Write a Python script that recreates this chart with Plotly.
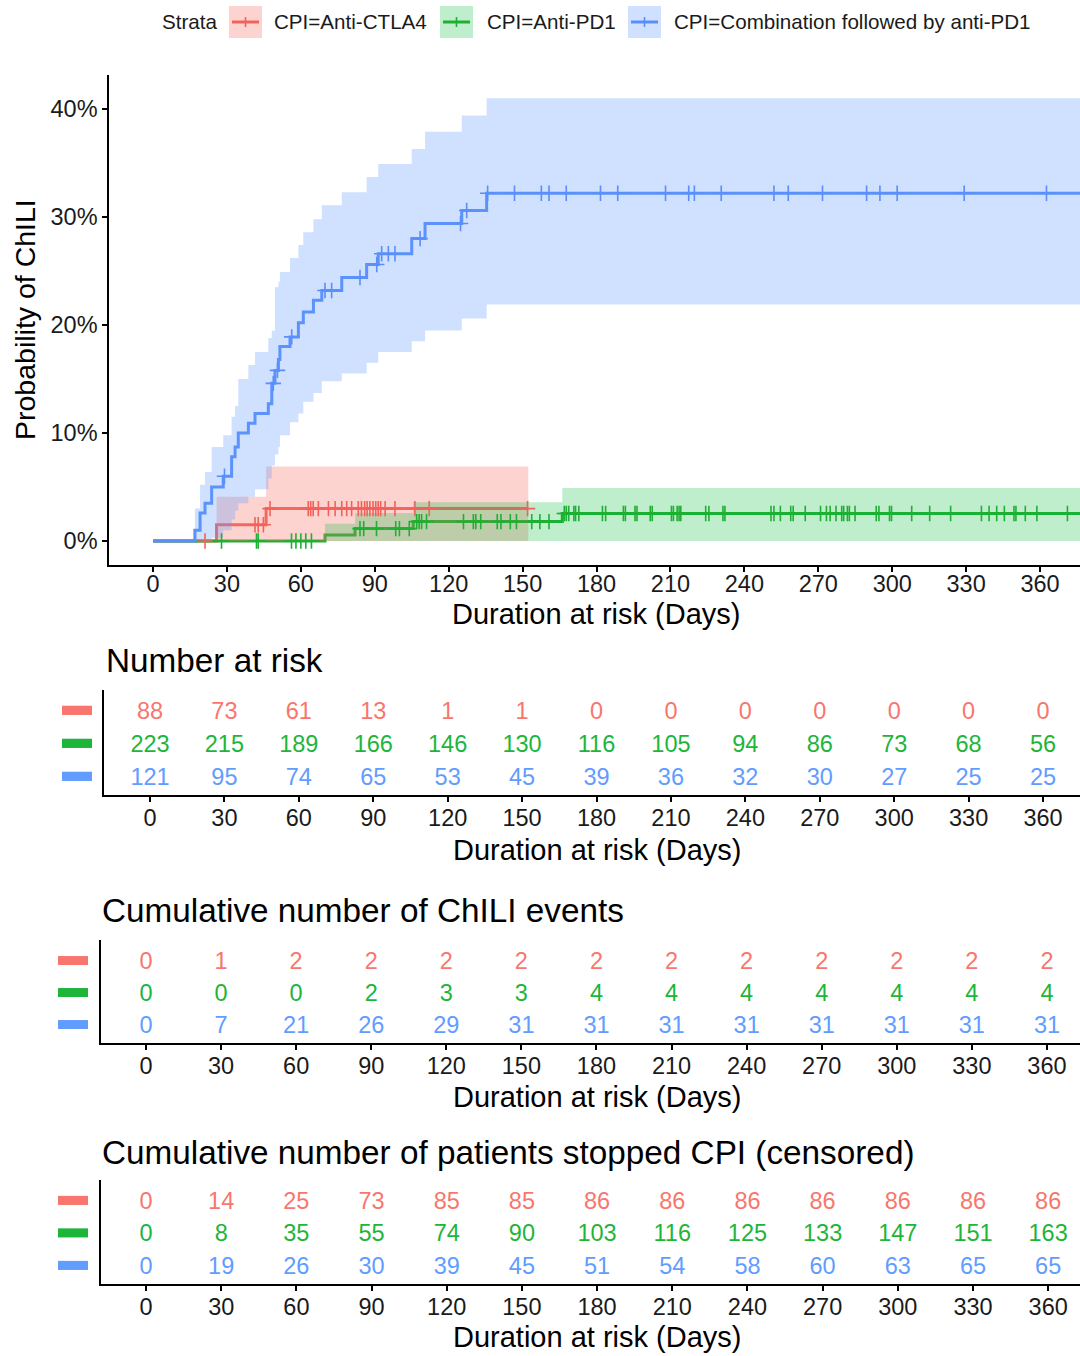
import numpy as np
import plotly.graph_objects as go

# ---------------- data ----------------
strata_names = ["CPI=Anti-CTLA4", "CPI=Anti-PD1", "CPI=Combination followed by anti-PD1"]

# cumulative incidence of ChILI (%), step curves; times in days
ctla4_time = [0, 25.8, 45.9, 152.3]
ctla4_est = [0.0, 1.5, 3.0, 3.0]
ctla4_lower = [0.0, 0.0, 0.0, 0.0]
ctla4_upper = [0.0, 4.1, 6.9, 6.9]
ctla4_censor = [21.1, 41.4, 42.7, 44.8, 47.5, 63.0, 64.0, 65.0, 67.1, 71.2, 73.9, 76.6, 78.6,
                80.6, 83.3, 84.6, 85.9, 86.9, 88.0, 89.3, 90.4, 91.4, 92.4, 94.2, 98.2, 106.3,
                112.1, 152.0]

pd1_time = [0, 69.8, 82.0, 105.6, 166.1, 380]
pd1_est = [0.0, 0.55, 1.15, 1.8, 2.55, 2.55]
pd1_lower = [0.0, 0.0, 0.0, 0.0, 0.0, 0.0]
pd1_upper = [0.0, 1.6, 2.6, 3.6, 4.9, 4.9]
pd1_censor = [27.8, 42.0, 42.7, 56.2, 58.0, 60.0, 62.0, 64.3, 84.0, 85.5, 90.7, 98.5, 100.0,
              104.0, 107.0, 108.0, 109.0, 111.0, 126.0, 130.0, 131.0, 133.0, 139.7, 141.2,
              145.0, 147.5, 153.7, 157.0, 160.7, 166.9, 167.7, 168.7, 170.8, 171.5, 172.8,
              182.4, 183.7, 190.9, 191.7, 195.6, 196.4, 201.8, 202.6, 210.4, 211.2, 212.7,
              213.5, 214.2, 224.3, 225.6, 231.3, 232.1, 250.8, 252.0, 254.6, 258.8, 259.8,
              264.7, 270.9, 273.3, 274.8, 277.2, 279.5, 280.3, 281.8, 282.6, 284.9, 293.5,
              294.6, 298.9, 299.7, 307.9, 315.2, 323.7, 336.2, 339.3, 342.4, 345.5, 349.4,
              350.2, 354.0, 358.7, 371.1]

combo_time = [0, 17.0, 19.1, 21.1, 23.8, 28.5, 31.9, 33.3, 34.6, 38.7, 41.4, 46.8, 48.2, 49.5,
              50.9, 51.5, 55.6, 59.0, 61.0, 65.1, 68.5, 76.6, 86.7, 91.4, 105.0, 110.4, 125.3,
              135.4, 380]
combo_est = [0.0, 1.0, 2.6, 3.5, 5.0, 6.0, 7.8, 8.7, 10.0, 10.9, 11.8, 12.7, 14.6, 15.8, 16.8,
             18.0, 18.9, 20.2, 21.2, 22.3, 23.2, 24.4, 25.6, 26.6, 28.0, 29.4, 30.6, 32.2, 32.2]
combo_lower = [0.0, 0.0, 0.0, 0.0, 0.3, 1.0, 2.0, 2.8, 3.5, 4.1, 4.8, 5.8, 7.0, 8.0, 8.7, 9.8,
               11.0, 11.8, 12.9, 13.7, 14.8, 15.5, 16.5, 17.5, 18.5, 19.5, 20.6, 21.9, 21.9]
combo_upper = [0.0, 3.0, 5.2, 6.4, 8.7, 9.8, 11.5, 12.5, 15.0, 16.3, 17.5, 18.8, 19.5, 23.5,
               24.0, 24.9, 26.2, 27.4, 28.6, 29.8, 31.1, 32.3, 33.7, 34.9, 36.3, 37.9, 39.4,
               41.0, 41.0]
combo_censor = [29.0, 48.8, 50.5, 56.3, 69.8, 72.5, 84.0, 90.8, 92.8, 95.5, 98.2, 108.4, 124.8,
                127.3, 135.8, 146.7, 157.6, 160.7, 167.7, 181.6, 188.6, 208.0, 217.4, 219.7,
                230.6, 252.0, 257.8, 271.7, 289.6, 295.0, 302.0, 329.2, 362.6]

y_ticks = [0, 10, 20, 30, 40]
table_times = [0, 30, 60, 90, 120, 150, 180, 210, 240, 270, 300, 330, 360]

risk_ctla4 = [88, 73, 61, 13, 1, 1, 0, 0, 0, 0, 0, 0, 0]
risk_pd1 = [223, 215, 189, 166, 146, 130, 116, 105, 94, 86, 73, 68, 56]
risk_combo = [121, 95, 74, 65, 53, 45, 39, 36, 32, 30, 27, 25, 25]

events_ctla4 = [0, 1, 2, 2, 2, 2, 2, 2, 2, 2, 2, 2, 2]
events_pd1 = [0, 0, 0, 2, 3, 3, 4, 4, 4, 4, 4, 4, 4]
events_combo = [0, 7, 21, 26, 29, 31, 31, 31, 31, 31, 31, 31, 31]

cens_ctla4 = [0, 14, 25, 73, 85, 85, 86, 86, 86, 86, 86, 86, 86]
cens_pd1 = [0, 8, 35, 55, 74, 90, 103, 116, 125, 133, 147, 151, 163]
cens_combo = [0, 19, 26, 30, 39, 45, 51, 54, 58, 60, 63, 65, 65]

table_titles = ["Number at risk", "Cumulative number of ChILI events",
                "Cumulative number of patients stopped CPI (censored)"]
x_title = "Duration at risk (Days)"
y_title = "Probability of ChILI"

# ---------------- styling ----------------
W, H = 1080, 1356
FONT = "Liberation Sans, Arial, Helvetica, sans-serif"
line_cols = ["#F2625A", "#1FAF33", "#5A8EFA"]
text_cols = ["#F8766D", "#1DB53A", "#619CFF"]
band_rgb = [(248, 118, 109), (0, 186, 56), (97, 156, 255)]
band_alpha = [0.32, 0.25, 0.3]
band_cols = ["rgba(%d,%d,%d,%.2f)" % (c + (a,)) for c, a in zip(band_rgb, band_alpha)]


def px(x):
    return x / W


def py(y):
    return 1 - y / H


curves = [
    (ctla4_time, ctla4_est, ctla4_lower, ctla4_upper, ctla4_censor),
    (pd1_time, pd1_est, pd1_lower, pd1_upper, pd1_censor),
    (combo_time, combo_est, combo_lower, combo_upper, combo_censor),
]

fig = go.Figure()

# lines
for i, (t, e, lo, up, cz) in enumerate(curves):
    fig.add_trace(go.Scatter(x=t, y=e, mode="lines", line=dict(color=line_cols[i], width=3, shape="hv"),
                             showlegend=False, hoverinfo="skip", xaxis="x", yaxis="y"))
# confidence bands
for i, (t, e, lo, up, cz) in enumerate(curves):
    fig.add_trace(go.Scatter(x=t, y=up, mode="lines", line=dict(width=0, shape="hv"),
                             showlegend=False, hoverinfo="skip", xaxis="x", yaxis="y"))
    fig.add_trace(go.Scatter(x=t, y=lo, mode="lines", line=dict(width=0, shape="hv"),
                             fill="tonexty", fillcolor=band_cols[i],
                             showlegend=False, hoverinfo="skip", xaxis="x", yaxis="y"))
# censor marks
for i, (t, e, lo, up, cz) in enumerate(curves):
    idx = np.searchsorted(np.array(t), np.array(cz), side="right") - 1
    yc = np.array(e)[idx]
    fig.add_trace(go.Scatter(x=cz, y=yc, mode="markers",
                             marker=dict(symbol="cross-thin", size=11,
                                         line=dict(color=line_cols[i], width=1.6)),
                             showlegend=False, hoverinfo="skip", xaxis="x", yaxis="y"))

# tables
tables = [
    [risk_ctla4, risk_pd1, risk_combo],
    [events_ctla4, events_pd1, events_combo],
    [cens_ctla4, cens_pd1, cens_combo],
]
for k, tab in enumerate(tables):
    ax = str(k + 2)
    for i, vals in enumerate(tab):
        fig.add_trace(go.Scatter(x=table_times, y=[3 - i] * len(table_times), mode="text",
                                 text=[str(v) for v in vals],
                                 textfont=dict(color=text_cols[i], size=23.5, family=FONT),
                                 textposition="middle center",
                                 showlegend=False, hoverinfo="skip",
                                 xaxis="x" + ax, yaxis="y" + ax))

axis_common = dict(showline=True, linecolor="black", linewidth=1.5, showgrid=False, zeroline=False,
                   ticks="outside", ticklen=5, tickwidth=1.5, tickcolor="black",
                   tickfont=dict(size=23.5, color="#1a1a1a", family=FONT))

layout = dict(
    width=W, height=H, margin=dict(l=0, r=0, t=0, b=0),
    paper_bgcolor="white", plot_bgcolor="white", showlegend=False,
    font=dict(family=FONT, color="black"),
    xaxis=dict(domain=[px(109), 1.0], range=[-17.86, 376.2], tickmode="array",
               tickvals=table_times, ticktext=[str(v) for v in table_times],
               anchor="y", ticklabelstandoff=-8, **axis_common),
    yaxis=dict(domain=[py(565), py(75)], range=[-2.22, 43.15], tickmode="array",
               tickvals=y_ticks, ticktext=["%d%%" % v for v in y_ticks],
               anchor="x", **axis_common),
)

# table axes geometry (pixel layout of the reference)
tab_geom = [
    # x_left, y_top, y_bottom, xrange, yrange
    (104, 690, 795, [-18.54, 374.9], [0.515, 3.696]),
    (101, 940, 1043, [-17.98, 373.2], [0.5025, 3.721]),
    (101, 1180, 1284, [-17.96, 372.7], [0.508, 3.708]),
]
for k, (xl, yt, yb, xr, yr) in enumerate(tab_geom):
    ax = str(k + 2)
    xa = dict(domain=[px(xl), 1.0], range=xr, tickmode="array", tickvals=table_times,
              ticktext=[str(v) for v in table_times], anchor="y" + ax,
              ticklabelstandoff=-4, **axis_common)
    ya = dict(domain=[py(yb), py(yt)], range=yr, anchor="x" + ax, showline=True, linecolor="black",
              linewidth=1.5, showgrid=False, zeroline=False, showticklabels=False, ticks="")
    layout["xaxis" + ax] = xa
    layout["yaxis" + ax] = ya

fig.update_layout(**layout)

annotations = []
shapes = []

# axis titles
title_y = [614, 850, 1097, 1337]
title_xc = [596, 597, 597, 597]
for yv, xc in zip(title_y, title_xc):
    annotations.append(dict(x=px(xc), y=py(yv), xref="paper", yref="paper", text=x_title,
                            showarrow=False, xanchor="center", yanchor="middle",
                            font=dict(size=29, color="black", family=FONT)))
annotations.append(dict(x=px(25), y=py(320), xref="paper", yref="paper", text=y_title,
                        textangle=-90, showarrow=False, xanchor="center", yanchor="middle",
                        font=dict(size=28.5, color="black", family=FONT)))

# table titles
tt_pos = [(104, 660), (100, 911), (100, 1152)]
for (xl, yc), ttl in zip(tt_pos, table_titles):
    annotations.append(dict(x=px(xl), y=py(yc), xref="paper", yref="paper", text=ttl,
                            showarrow=False, xanchor="left", yanchor="middle",
                            font=dict(size=33.3, color="black", family=FONT)))

# strata bars left of tables
bar_x = [(62, 92), (58, 88), (58, 88)]
for k in range(3):
    ax = str(k + 2)
    for i in range(3):
        shapes.append(dict(type="rect", xref="paper", yref="y" + ax,
                           x0=px(bar_x[k][0]), x1=px(bar_x[k][1]),
                           y0=3 - i - 0.06, y1=3 - i + 0.22,
                           fillcolor=text_cols[i], line=dict(width=0)))

# legend (manual, ggplot style)
annotations.append(dict(x=px(160), y=py(22), xref="paper", yref="paper", text="Strata",
                        showarrow=False, xanchor="left", yanchor="middle",
                        font=dict(size=20.6, color="#1a1a1a", family=FONT)))
key_x = [229, 440, 628]
lab_x = [272, 485, 672]
for i in range(3):
    x0 = key_x[i]
    shapes.append(dict(type="rect", xref="paper", yref="paper", x0=px(x0), x1=px(x0 + 33),
                       y0=py(38), y1=py(6), fillcolor=band_cols[i], line=dict(width=0)))
    shapes.append(dict(type="line", xref="paper", yref="paper", x0=px(x0 + 3), x1=px(x0 + 30),
                       y0=py(22), y1=py(22), line=dict(color=line_cols[i], width=3)))
    shapes.append(dict(type="line", xref="paper", yref="paper", x0=px(x0 + 16.5), x1=px(x0 + 16.5),
                       y0=py(17), y1=py(27), line=dict(color=line_cols[i], width=1.6)))
    annotations.append(dict(x=px(lab_x[i]), y=py(22), xref="paper", yref="paper", text=strata_names[i],
                            showarrow=False, xanchor="left", yanchor="middle",
                            font=dict(size=20.6, color="#1a1a1a", family=FONT)))

fig.update_layout(annotations=annotations, shapes=shapes)

fig.write_html("out.html", config={"displayModeBar": False},
               post_script="document.body.style.margin='0px';document.body.style.overflow='hidden';")
